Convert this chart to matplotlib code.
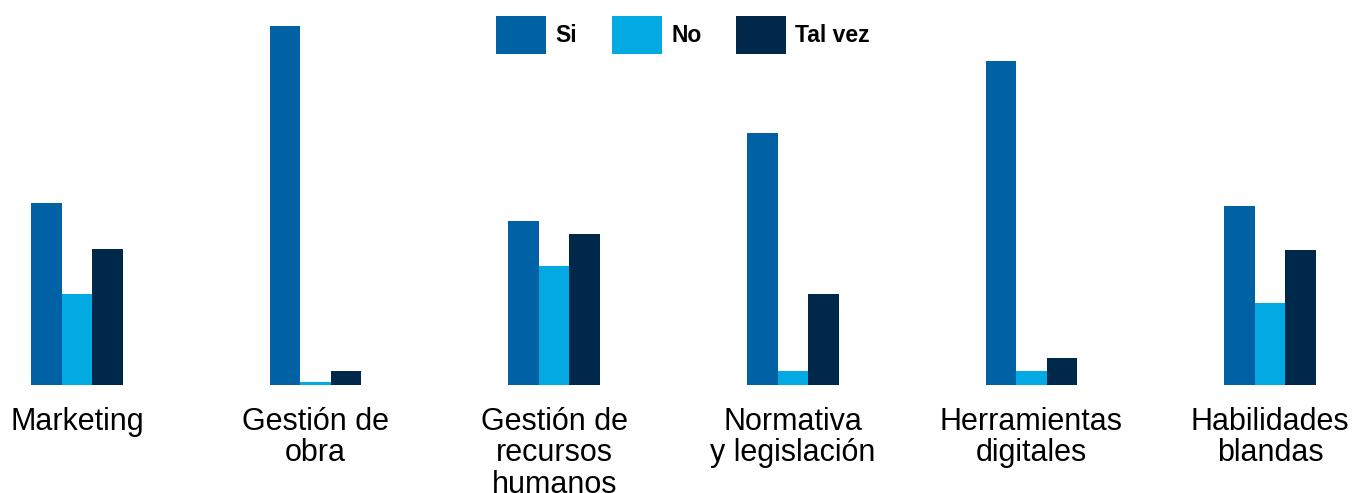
import matplotlib
matplotlib.use("Agg")
import matplotlib.pyplot as plt
import numpy as np

plt.rcParams['font.family'] = ['Liberation Sans', 'DejaVu Sans']

categories = ["Marketing", "Gestión de\nobra", "Gestión de\nrecursos\nhumanos",
              "Normativa\ny legislación", "Herramientas\ndigitales", "Habilidades\nblandas"]
series_names = ["Si", "No", "Tal vez"]
si = [182, 359, 164, 252, 324, 179]
no = [91, 3, 119, 14, 14, 82]
tal_vez = [136, 14, 151, 91, 27, 135]
colors = ["#0062A5", "#02A9E2", "#00284B"]

fig = plt.figure(figsize=(13.57, 4.93), dpi=100)
ax = fig.add_axes([0, 108/493, 1, 359/493])

x = np.arange(len(categories))
w = 0.128
for i, (vals, name, c) in enumerate(zip([si, no, tal_vez], series_names, colors)):
    ax.bar(x + (i - 1) * w, vals, width=w, color=c, label=name, linewidth=0)

step = 238.6
first = 77.0
ax.set_xlim(-first/step, (1357-first)/step)
ax.set_ylim(0, max(si))
for s in ax.spines.values():
    s.set_visible(False)
ax.set_yticks([])
ax.set_xticks(x)
ax.set_xticklabels(categories, fontsize=22, linespacing=1.05)
ax.tick_params(axis='x', length=0, pad=16)

leg = ax.legend(loc='center', bbox_to_anchor=(683/1357, 1 + (26-35)/359), ncol=3, frameon=False,
                prop={'weight': 'bold', 'size': 16.5}, handlelength=2.2, handleheight=2.17,
                handletextpad=0.4, columnspacing=1.5, borderaxespad=0)

fig.savefig("out.png", dpi=100)
